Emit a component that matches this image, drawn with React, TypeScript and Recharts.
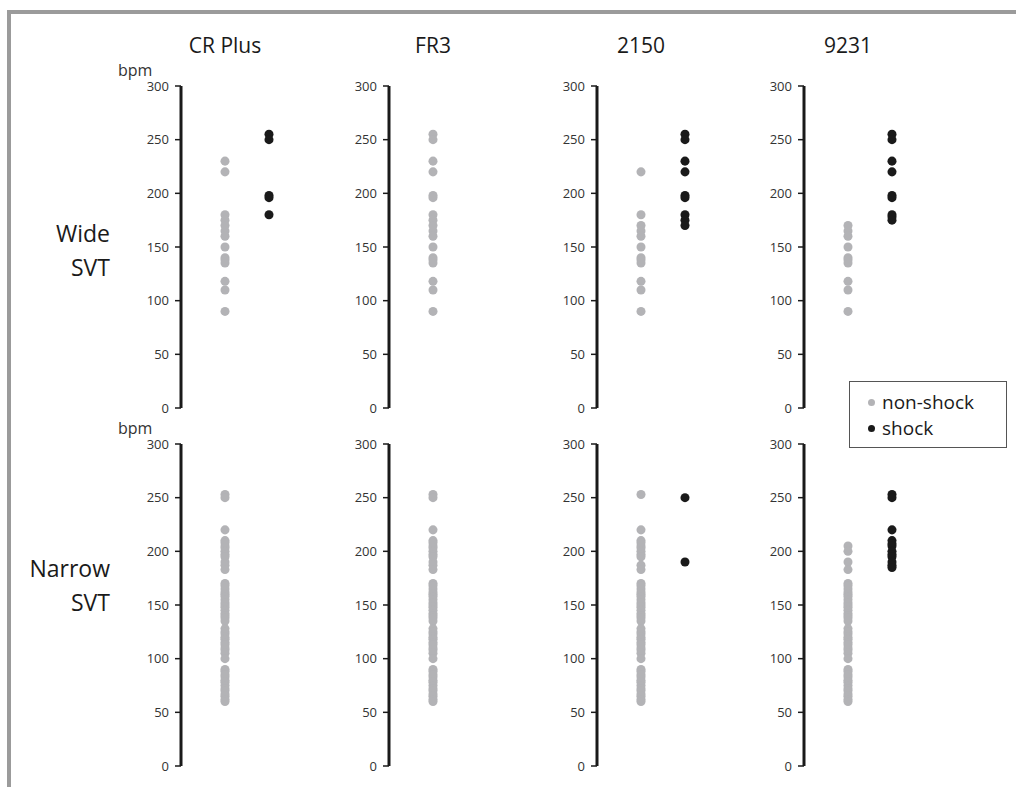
import React from 'react';
import { ScatterChart, Scatter, XAxis, YAxis, ZAxis } from 'recharts';

// device names (column titles)
const devices = ['CR Plus', 'FR3', '2150', '9231'];
const rowLabels = [['Wide', 'SVT'], ['Narrow', 'SVT']];
const yTicks = [0, 50, 100, 150, 200, 250, 300];

// Wide SVT, heart rate (bpm)
const wideCrPlusNon = [230, 220, 180, 175, 170, 165, 160, 150, 140, 138, 135, 118, 110, 90];
const wideCrPlusShock = [255, 250, 198, 196, 180];
const wideFr3Non = [255, 250, 230, 220, 198, 196, 180, 175, 170, 165, 160, 150, 140, 138, 135, 118, 110, 90];
const wideFr3Shock: number[] = [];
const wide2150Non = [220, 180, 170, 165, 160, 150, 140, 138, 135, 118, 110, 90];
const wide2150Shock = [255, 250, 230, 220, 198, 196, 180, 175, 170];
const wide9231Non = [170, 165, 160, 150, 140, 138, 135, 118, 110, 90];
const wide9231Shock = [255, 250, 230, 220, 198, 196, 180, 178, 175];

// Narrow SVT, heart rate (bpm)
const narrowCrPlusNon = [
  253, 250, 220, 210, 208, 205, 203, 200, 197, 195, 190, 187, 183,
  170, 168, 165, 162, 160, 158, 155, 152, 150, 148, 145, 142, 140, 138, 135,
  128, 125, 123, 120, 118, 115, 113, 110, 108, 105, 100,
  90, 88, 85, 83, 80, 78, 75, 72, 70, 67, 65, 62, 60,
];
const narrowCrPlusShock: number[] = [];
const narrowFr3Non = [
  253, 250, 220, 210, 208, 205, 203, 200, 197, 195, 190, 187, 183,
  170, 168, 165, 162, 160, 158, 155, 152, 150, 148, 145, 142, 140, 138, 135,
  128, 125, 123, 120, 118, 115, 113, 110, 108, 105, 100,
  90, 88, 85, 83, 80, 78, 75, 72, 70, 67, 65, 62, 60,
];
const narrowFr3Shock: number[] = [];
const narrow2150Non = [
  253, 220, 210, 208, 205, 203, 200, 197, 195, 187, 183,
  170, 168, 165, 162, 160, 158, 155, 152, 150, 148, 145, 142, 140, 138, 135,
  128, 125, 123, 120, 118, 115, 113, 110, 108, 105, 100,
  90, 88, 85, 83, 80, 78, 75, 72, 70, 67, 65, 62, 60,
];
const narrow2150Shock = [250, 190];
const narrow9231Non = [
  205, 200, 190, 183,
  170, 168, 165, 162, 160, 158, 155, 152, 150, 148, 145, 142, 140, 138, 135,
  128, 125, 123, 120, 118, 115, 113, 110, 108, 105, 100,
  90, 88, 85, 83, 80, 78, 75, 72, 70, 67, 65, 62, 60,
];
const narrow9231Shock = [253, 250, 220, 210, 207, 205, 200, 197, 195, 190, 187, 185];

const panels = [
  [
    { non: wideCrPlusNon, shock: wideCrPlusShock },
    { non: wideFr3Non, shock: wideFr3Shock },
    { non: wide2150Non, shock: wide2150Shock },
    { non: wide9231Non, shock: wide9231Shock },
  ],
  [
    { non: narrowCrPlusNon, shock: narrowCrPlusShock },
    { non: narrowFr3Non, shock: narrowFr3Shock },
    { non: narrow2150Non, shock: narrow2150Shock },
    { non: narrow9231Non, shock: narrow9231Shock },
  ],
];

const GRAY = '#b3b3b6';
const BLACK = '#1a1a1a';
const FONT = '"Open Sans", "Noto Sans", sans-serif';

const axisXs = [181, 389, 597, 804];
const rowTops = [76, 434];

const Panel = ({ non, shock, left, top }: { non: number[]; shock: number[]; left: number; top: number }) => {
  const nonData = non.map((v) => ({ x: 1, y: v }));
  const shockData = shock.map((v) => ({ x: 2, y: v }));
  return (
    <div style={{ position: 'absolute', left, top }}>
      <ScatterChart width={170} height={342} margin={{ top: 10, right: 10, bottom: 10, left: 0 }}>
        <XAxis type="number" dataKey="x" domain={[0, 2.5]} hide />
        <YAxis
          type="number"
          dataKey="y"
          domain={[0, 300]}
          ticks={yTicks}
          width={50}
          axisLine={{ stroke: BLACK, strokeWidth: 3 }}
          tickLine={{ stroke: BLACK, strokeWidth: 1.5 }}
          tickSize={6}
          tickMargin={6}
          tick={{ fill: '#333', fontSize: 13, fontFamily: FONT }}
        />
        <ZAxis type="number" range={[50, 50]} />
        <Scatter data={nonData} fill={GRAY} isAnimationActive={false} />
        <Scatter data={shockData} fill={BLACK} isAnimationActive={false} />
      </ScatterChart>
    </div>
  );
};

export default function App() {
  return (
    <div
      style={{
        position: 'fixed',
        left: 0,
        top: 0,
        width: 1016,
        height: 787,
        overflow: 'hidden',
        background: '#fff',
        fontFamily: FONT,
        color: '#1a1a1a',
      }}
    >
      {/* outer frame */}
      <div
        style={{
          position: 'absolute',
          left: 7,
          top: 10,
          width: 1040,
          height: 800,
          borderTop: '4px solid #9b9b9b',
          borderLeft: '4px solid #9b9b9b',
        }}
      />

      {devices.map((d, i) => (
        <div
          key={d}
          style={{
            position: 'absolute',
            left: axisXs[i] + 44 - 60,
            width: 120,
            top: 31,
            textAlign: 'center',
            fontSize: 21,
            lineHeight: '28px',
          }}
        >
          {d}
        </div>
      ))}

      {rowLabels.map((lines, r) => (
        <div
          key={r}
          style={{
            position: 'absolute',
            left: 0,
            width: 110,
            top: r === 0 ? 216 : 551,
            textAlign: 'right',
            fontSize: 23,
            lineHeight: '34px',
          }}
        >
          {lines[0]}
          <br />
          {lines[1]}
        </div>
      ))}

      {rowTops.map((t, r) => (
        <div
          key={'bpm' + r}
          style={{ position: 'absolute', left: 118, top: t - 16, fontSize: 16, lineHeight: '20px', color: '#333' }}
        >
          bpm
        </div>
      ))}

      {panels.map((row, r) =>
        row.map((p, c) => (
          <Panel key={`${r}-${c}`} non={p.non} shock={p.shock} left={axisXs[c] - 50} top={rowTops[r]} />
        ))
      )}

      {/* legend */}
      <div
        style={{
          position: 'absolute',
          left: 849,
          top: 381,
          width: 158,
          height: 67,
          border: '1px solid #555',
          background: '#fff',
          fontSize: 19,
          lineHeight: '26px',
          paddingTop: 7,
          boxSizing: 'border-box',
        }}
      >
        {[
          { label: 'non-shock', color: GRAY, size: 7 },
          { label: 'shock', color: BLACK, size: 7 },
        ].map((e) => (
          <div key={e.label} style={{ display: 'flex', alignItems: 'center', paddingLeft: 18 }}>
            <span
              style={{
                display: 'inline-block',
                width: e.size,
                height: e.size,
                borderRadius: '50%',
                background: e.color,
                marginRight: 7,
              }}
            />
            {e.label}
          </div>
        ))}
      </div>
    </div>
  );
}
